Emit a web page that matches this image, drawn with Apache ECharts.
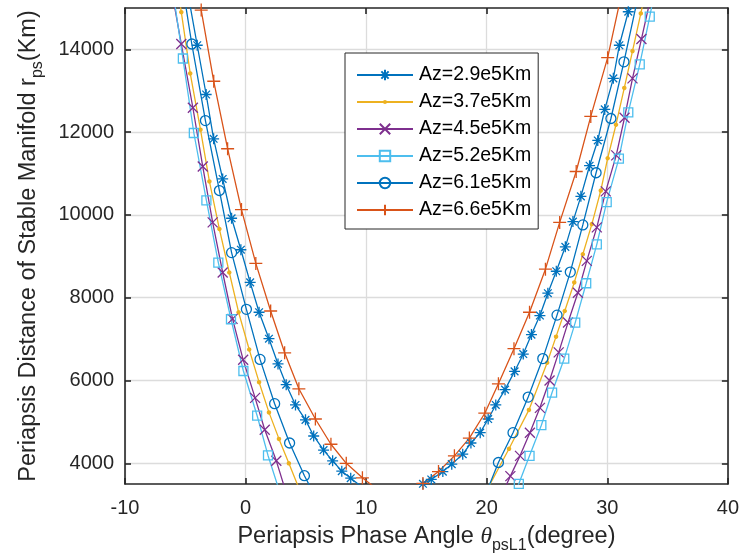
<!DOCTYPE html>
<html><head><meta charset="utf-8">
<script src="https://cdn.jsdelivr.net/npm/echarts@6/dist/echarts.min.js"></script>
<style>html,body{margin:0;padding:0;background:#fff}#c{width:742px;height:559px}</style>
</head><body><div id="c"></div><script>
// ---- data (theta in degree, r in Km), ordered along each curve ----
const seriesNames = ['Az=2.9e5Km','Az=3.7e5Km','Az=4.5e5Km','Az=5.2e5Km','Az=6.1e5Km','Az=6.6e5Km'];
const xTickValues = [-10, 0, 10, 20, 30, 40];
const yTickValues = [4000, 6000, 8000, 10000, 12000, 14000];

const az29_theta = [-4.75,-4.01,-3.27,-2.65,-1.90,-1.16,-0.39,0.38,1.12,1.94,2.69,3.37,4.14,4.97,5.65,6.47,7.22,7.98,8.72,9.6,14.2,14.71,15.40,16.36,17.10,18.01,18.69,19.46,20.12,20.75,21.52,22.31,23.03,23.71,24.41,25.07,25.77,26.52,27.15,27.81,28.53,29.21,29.79,30.50,31.00,31.74,32.45];
const az29_r     = [15300,14100,12910,11840,10870,9920,9160,8370,7650,7010,6400,5900,5410,5050,4660,4320,4060,3810,3640,3440,3380,3505,3610,3800,3980,4220,4490,4740,5070,5410,5780,6220,6640,7110,7570,8110,8640,9230,9840,10450,11190,11800,12550,13300,14100,14910,15700];

const az37_theta = [-6.05,-5.33,-4.59,-3.74,-3.00,-2.17,-1.35,-0.58,0.30,1.12,1.94,2.77,3.59,4.35,20.1,21.85,23.50,25.01,25.75,26.47,27.26,27.97,28.72,29.46,30.03,30.72,31.41,32.09,32.78,33.45];
const az37_r     = [16300,14900,13420,12060,10810,9660,8610,7650,6750,5960,5230,4590,4000,3450,3400,4350,5290,6430,7060,7680,8370,9050,9780,10590,11370,12180,13070,13960,14870,15780];

const az45_theta = [-6.3,-5.33,-4.37,-3.55,-2.73,-1.90,-1.08,-0.20,0.79,1.59,2.55,3.3,21.3,21.96,22.76,23.58,24.41,25.21,25.97,26.74,27.56,28.30,29.13,29.87,30.74,31.43,32.09,32.83,33.6];
const az45_r     = [15700,14130,12590,11170,9820,8610,7490,6500,5580,4810,4060,3350,3270,3690,4180,4740,5340,6000,6680,7400,8120,8890,9700,10570,11440,12350,13300,14250,15250];

const az52_theta = [-6.1,-5.20,-4.29,-3.25,-2.26,-1.21,-0.18,0.96,1.86,2.95,21.9,22.66,23.55,24.53,25.42,26.43,27.34,28.25,29.13,29.95,30.96,31.74,32.69,33.52,34.3];
const az52_r     = [15550,13780,11980,10350,8850,7480,6230,5150,4190,3200,2900,3505,4180,4920,5710,6530,7400,8350,9290,10310,11360,12480,13640,14790,15950];

const az61_theta = [-5.5,-4.46,-3.33,-2.17,-1.16,0.07,1.20,2.41,3.65,4.88,5.6,20.05,20.97,22.18,23.44,24.65,25.83,26.93,27.97,29.07,30.30,31.38,32.45];
const az61_r     = [16050,14130,12280,10590,9090,7720,6510,5440,4490,3700,3300,3350,4020,4740,5600,6530,7580,8620,9760,11020,12330,13700,15140];

const az66_theta = [-4.7,-3.68,-2.64,-1.49,-0.34,0.85,2.08,3.24,4.42,5.79,7.08,8.35,9.69,11.0,14.0,14.71,16.00,17.32,18.56,19.84,20.97,22.26,23.55,24.87,26.05,27.42,28.63,30.03,31.3];
const az66_r     = [16900,14950,13230,11600,10130,8830,7680,6670,5800,5070,4460,4000,3650,3350,3380,3515,3800,4180,4610,5210,5920,6770,7650,8690,9820,11050,12380,13800,15500];

const thetaLists = [az29_theta, az37_theta, az45_theta, az52_theta, az61_theta, az66_theta];
const rLists     = [az29_r, az37_r, az45_r, az52_r, az61_r, az66_r];

// ---- styles ----
const colors = ['#0072BD','#EDB120','#7E2F8E','#4DBEEE','#0072BD','#D95319'];
const symbols = [
  'path://M0,-10L0,10M-10,0L10,0M-7,-7L7,7M-7,7L7,-7',
  'path://M-10,-10M10,10M2,0A2,2 0 1 1 -2,0A2,2 0 1 1 2,0Z',
  'path://M-10,-10L10,10M-10,10L10,-10',
  'path://M-10,-10L10,-10L10,10L-10,10Z',
  'path://M10,0A10,10 0 1 1 -10,0A10,10 0 1 1 10,0Z',
  'path://M0,-10L0,10M-10,0L10,0'
];
const symSizes = [11, 16, 10, 9, 10, 13];
const fills = [null, true, null, 'rgba(0,0,0,0)', 'rgba(0,0,0,0)', null];
const TXT = '#262626';
const FONT = 'Liberation Sans';

const series = thetaLists.map((xs, i) => ({
  name: seriesNames[i],
  type: 'line',
  data: xs.map((x, k) => [x, rLists[i][k]]),
  clip: true,
  symbol: symbols[i],
  symbolSize: symSizes[i],
  showAllSymbol: true,
  lineStyle: { color: colors[i], width: 1.3 },
  itemStyle: {
    color: fills[i] === true ? colors[i] : (fills[i] || colors[i]),
    borderColor: colors[i],
    borderWidth: 1.3
  },
  emphasis: { disabled: true },
  animation: false
}));

const chart = echarts.init(document.getElementById('c'), null, { renderer: 'canvas' });
const axisLineStyle = { color: TXT, width: 1.6 };
chart.setOption({
  animation: false,
  backgroundColor: '#fff',
  textStyle: { fontFamily: FONT },
  grid: { left: 125, right: 10, top: 8, bottom: 75, containLabel: false },
  legend: {
    orient: 'vertical',
    left: 345, top: 53,
    data: seriesNames,
    backgroundColor: '#fff',
    borderColor: TXT, borderWidth: 1,
    padding: [12, 7, 9, 11],
    itemWidth: 56, itemHeight: 13, itemGap: 7,
    textStyle: { fontSize: 19.5, color: '#000', fontFamily: FONT, padding: [0, 0, 0, 1] }
  },
  xAxis: [{
    type: 'value', min: -10, max: 40, interval: 10, position: 'bottom',
    axisLine: { show: true, onZero: false, lineStyle: axisLineStyle },
    axisTick: { show: true, inside: true, length: 6, lineStyle: axisLineStyle },
    axisLabel: { fontSize: 20, color: TXT, margin: 14, fontFamily: FONT,
      customValues: xTickValues, formatter: v => String(v) },
    splitLine: { show: true, lineStyle: { color: '#dcdcdc', width: 1.3 } },
    name: '{m|Periapsis Phase Angle }{t|θ}{s|psL1}{m|(degree)}',
    nameLocation: 'middle', nameGap: 35,
    nameTextStyle: { rich: {
      m: { fontSize: 23.5, color: TXT, fontFamily: FONT, lineHeight: 23, verticalAlign: 'middle' },
      t: { fontSize: 23.5, color: TXT, fontFamily: 'Liberation Serif', fontStyle: 'italic', lineHeight: 23, verticalAlign: 'middle' },
      s: { fontSize: 16, color: TXT, fontFamily: FONT, lineHeight: 35, verticalAlign: 'bottom' }
    } }
  }, {
    type: 'value', min: -10, max: 40, interval: 10, position: 'top',
    axisLine: { show: true, onZero: false, lineStyle: axisLineStyle },
    axisTick: { show: true, inside: true, length: 6, lineStyle: axisLineStyle },
    axisLabel: { show: false }, splitLine: { show: false }
  }],
  yAxis: [{
    type: 'value', min: 3500, max: 15000, position: 'left',
    axisLine: { show: true, onZero: false, lineStyle: axisLineStyle },
    axisTick: { show: true, inside: true, length: 6, lineStyle: axisLineStyle, customValues: yTickValues },
    axisLabel: { fontSize: 20, color: TXT, margin: 11, fontFamily: FONT,
      customValues: yTickValues, formatter: v => String(v) },
    splitLine: { show: true, lineStyle: { color: '#dcdcdc', width: 1.3 } },
    name: '{m|Periapsis Distance of Stable Manifold r}{s|ps}{m|(Km)}',
    nameLocation: 'middle', nameGap: 79, nameRotate: 90,
    nameTextStyle: { rich: {
      m: { fontSize: 23.5, color: TXT, fontFamily: FONT, lineHeight: 23, verticalAlign: 'middle' },
      s: { fontSize: 16, color: TXT, fontFamily: FONT, lineHeight: 35, verticalAlign: 'bottom' }
    } }
  }, {
    type: 'value', min: 3500, max: 15000, position: 'right',
    axisLine: { show: true, onZero: false, lineStyle: axisLineStyle },
    axisTick: { show: true, inside: true, length: 6, lineStyle: axisLineStyle, customValues: yTickValues },
    axisLabel: { show: false }, splitLine: { show: false }
  }],
  series: series
});
</script></body></html>
